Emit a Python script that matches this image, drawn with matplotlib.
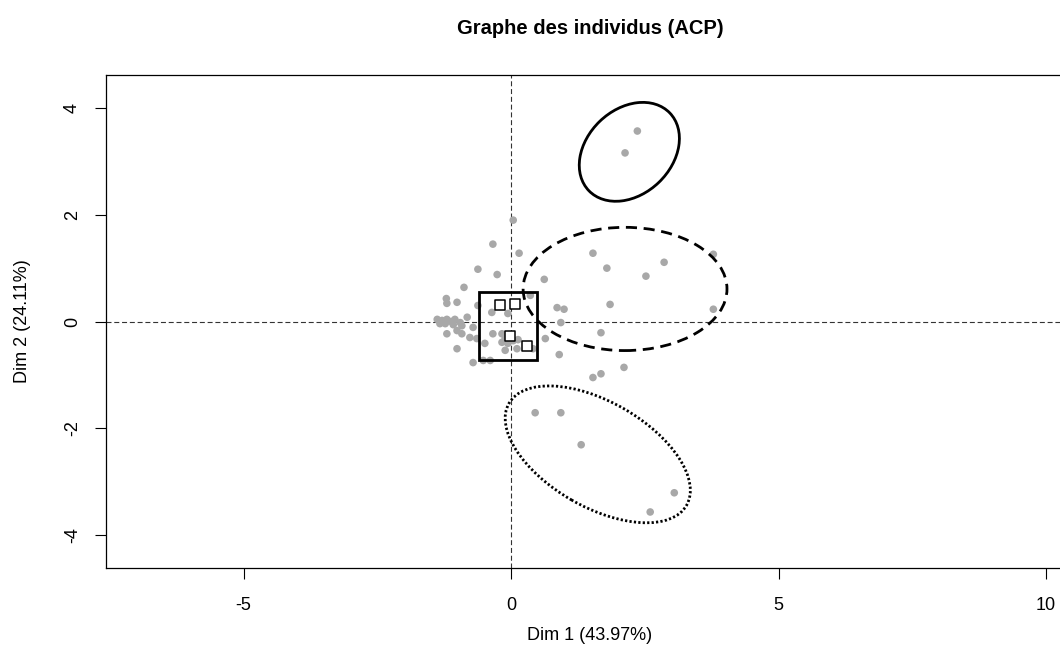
import matplotlib
matplotlib.use("Agg")
import matplotlib.pyplot as plt
from matplotlib.patches import Ellipse, Rectangle
import numpy as np

plt.rcParams["font.family"] = ["Liberation Sans", "DejaVu Sans"]
plt.rcParams["axes.unicode_minus"] = False

# individual coordinates (Dim 1, Dim 2)
ind_x = [-0.88, -1.20, -1.01, -1.21, -0.62, -0.36, -0.06, 0.36, -1.38, -1.29,
         -1.20, -1.12, -1.05, -0.95, -1.33, -1.23, -1.08, -0.92, -0.82, -0.71,
         -1.20, -1.01, -0.92, -0.77, -0.34, -0.17, -0.11, 0.04, -0.17, 0.13,
         -0.06, -0.49, -0.64, -1.01, -0.11, 0.11, 0.41, -0.39, -0.71, -0.52,
         0.04, -0.34, 0.15, -0.62, -0.26, 0.62,
         1.53, 1.79, 2.52, 2.86, 3.78, 0.86, 0.99, 1.85, 3.78, 0.93,
         0.64, 1.68, 0.90, 2.11, 1.53, 1.68,
         2.36, 2.13,
         0.45, 0.93, 1.31, 3.05, 2.60]
ind_y = [0.64, 0.34, 0.36, 0.43, 0.30, 0.17, 0.15, 0.49, 0.04, 0.02,
         0.04, 0.00, 0.04, -0.02, -0.04, -0.04, -0.06, -0.08, 0.08, -0.11,
         -0.23, -0.17, -0.23, -0.30, -0.23, -0.23, -0.32, -0.36, -0.39, -0.34,
         -0.41, -0.41, -0.32, -0.51, -0.54, -0.51, -0.51, -0.73, -0.77, -0.73,
         1.90, 1.45, 1.28, 0.98, 0.88, 0.79,
         1.28, 1.00, 0.85, 1.11, 1.26, 0.26, 0.23, 0.32, 0.23, -0.02,
         -0.32, -0.21, -0.62, -0.86, -1.05, -0.98,
         3.57, 3.16,
         -1.71, -1.71, -2.31, -3.21, -3.57]

# supplementary points (open squares)
sup_x = [-0.21, 0.07, -0.02, 0.30]
sup_y = [0.30, 0.32, -0.28, -0.45]

# groups: center x, center y, width, height, angle, style
ell_cx = [2.21, 2.13, 1.62]
ell_cy = [3.18, 0.61, -2.49]
ell_w = [2.10, 3.81, 3.83]
ell_h = [1.59, 2.31, 1.97]
ell_ang = [44, 0, -30]
ell_ls = ["-", (0, (4, 2.4)), (0, (0.8, 0.8))]

# box around the central group
box_x = [-0.60, 0.49]
box_y = [-0.73, 0.56]

fig = plt.figure(figsize=(10.6, 6.66), dpi=100)
ax = fig.add_axes([106 / 1060, 1 - 568 / 666, (1074 - 106) / 1060, (568 - 75) / 666])

ax.axhline(0, color="#333333", lw=0.8, ls=(0, (4.5, 2.5)), zorder=1)
ax.axvline(0, color="#333333", lw=0.8, ls=(0, (4.5, 2.5)), zorder=1)

ax.scatter(ind_x, ind_y, s=30, color="#a8a8a8", edgecolors="none", zorder=2)
ax.scatter(sup_x, sup_y, marker="s", s=48, facecolors="white",
           edgecolors="black", linewidths=1.1, zorder=4)

for cx, cy, w, h, a, ls in zip(ell_cx, ell_cy, ell_w, ell_h, ell_ang, ell_ls):
    ax.add_patch(Ellipse((cx, cy), w, h, angle=a, fill=False, lw=2.0,
                         ls=ls, edgecolor="black", zorder=3))

ax.add_patch(Rectangle((box_x[0], box_y[0]), box_x[1] - box_x[0],
                       box_y[1] - box_y[0], fill=False, lw=2.0,
                       edgecolor="black", zorder=3))

ax.set_xlim(-7.57, 10.52)
ax.set_ylim(-4.62, 4.62)
ax.set_xticks([-5, 0, 5, 10])
ax.set_yticks([-4, -2, 0, 2, 4])
ax.set_yticklabels(["-4", "-2", "0", "2", "4"], rotation=90, va="center")
ax.tick_params(axis="x", length=8, width=0.8, pad=13, labelsize=13)
ax.tick_params(axis="y", length=8, width=0.8, pad=10, labelsize=13)
for sp in ax.spines.values():
    sp.set_linewidth(0.9)

fig.text(590 / 1060, 1 - 28 / 666, "Graphe des individus (ACP)",
         ha="center", va="center", fontsize=14.5, fontweight="bold")
fig.text(590 / 1060, 1 - 636 / 666, "Dim 1 (43.97%)",
         ha="center", va="center", fontsize=13)
fig.text(23 / 1060, 1 - 321 / 666, "Dim 2 (24.11%)", rotation=90,
         ha="center", va="center", fontsize=13)

fig.savefig("out.png", dpi=100)
